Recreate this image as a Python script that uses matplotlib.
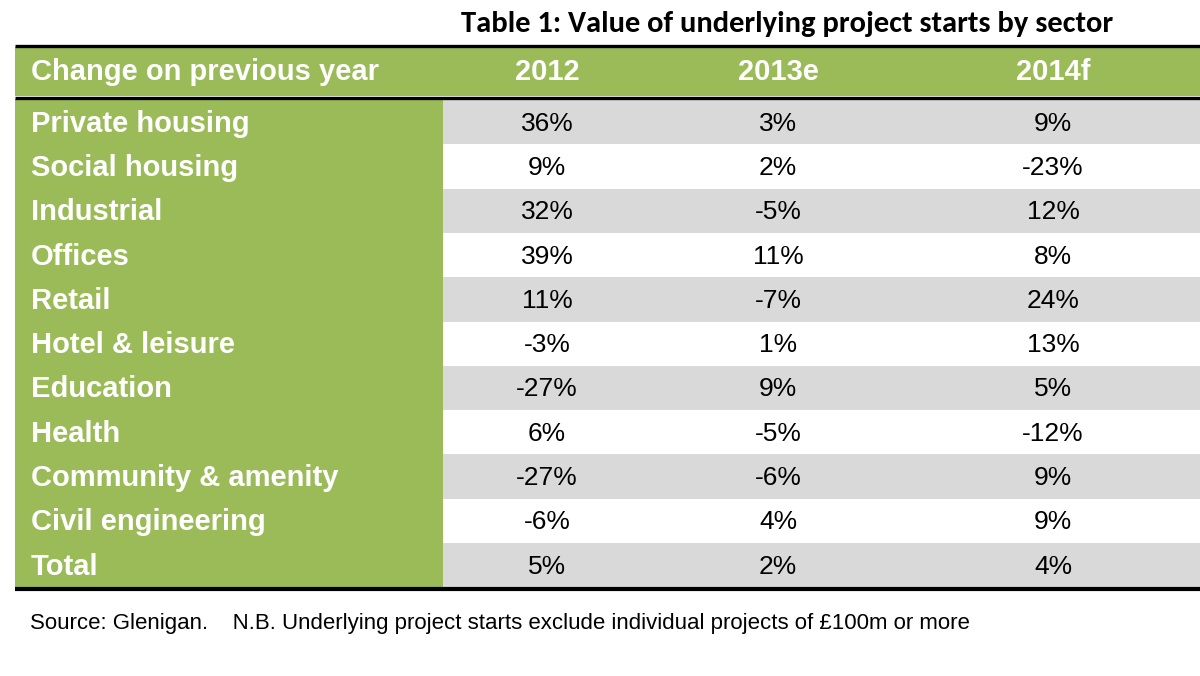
import matplotlib
matplotlib.use("Agg")
import matplotlib.pyplot as plt
from matplotlib.patches import Rectangle
from matplotlib import font_manager

title = "Table 1: Value of underlying project starts by sector"
header_label = "Change on previous year"
years = ["2012", "2013e", "2014f"]
sectors = ["Private housing", "Social housing", "Industrial", "Offices", "Retail",
           "Hotel & leisure", "Education", "Health", "Community & amenity",
           "Civil engineering", "Total"]
v2012 = ["36%", "9%", "32%", "39%", "11%", "-3%", "-27%", "6%", "-27%", "-6%", "5%"]
v2013 = ["3%", "2%", "-5%", "11%", "-7%", "1%", "9%", "-5%", "-6%", "4%", "2%"]
v2014 = ["9%", "-23%", "12%", "8%", "24%", "13%", "5%", "-12%", "9%", "9%", "4%"]
footnote = "Source: Glenigan.    N.B. Underlying project starts exclude individual projects of £100m or more"

GREEN = "#9BBB59"
GREY = "#D9D9D9"

names = {f.name for f in font_manager.fontManager.ttflist}
narrow = "Liberation Sans Narrow" if "Liberation Sans Narrow" in names else "Liberation Sans"
title_font = "Carlito" if "Carlito" in names else "Lato"

fig = plt.figure(figsize=(12, 6.76), dpi=100)
ax = fig.add_axes([0, 0, 1, 1])
ax.set_xlim(0, 1200)
ax.set_ylim(676, 0)
ax.axis("off")

left, right, split = 15, 1200, 443
head_top, head_bot = 47, 96
row_top, row_h = 100, 44.3
col_x = [547, 778, 1053]

# title
ax.text(787, 24, title, ha="center", va="center", fontsize=22, fontweight="bold",
        family=title_font, color="black")

# header
ax.add_patch(Rectangle((left, head_top), right - left, head_bot - head_top, color=GREEN, lw=0))
ax.text(31, 72, header_label, ha="left", va="center", fontsize=21, fontweight="bold",
        family="Liberation Sans", color="white")
for x, y in zip(col_x, years):
    ax.text(x, 72, y, ha="center", va="center", fontsize=21, fontweight="bold",
            family="Liberation Sans", color="white")

n = len(sectors)
bottom = row_top + n * row_h
ax.add_patch(Rectangle((left, row_top - 1), split - left, bottom - row_top + 1, color=GREEN, lw=0))
for i, (s, a, b, c) in enumerate(zip(sectors, v2012, v2013, v2014)):
    y0 = row_top + i * row_h
    if i % 2 == 0:
        ax.add_patch(Rectangle((split, y0), right - split, row_h, color=GREY, lw=0))
    yc = y0 + row_h / 2 + 1.5
    ax.text(31, yc, s, ha="left", va="center", fontsize=21, fontweight="bold",
            family="Liberation Sans", color="white")
    for x, v in zip(col_x, (a, b, c)):
        ax.text(x, yc, v, ha="center", va="center", fontsize=19, family=narrow, color="black")

# black rules
ax.plot([left, right], [45.5, 45.5], color="black", lw=2.4, solid_capstyle="butt")
ax.plot([left, right], [97.5, 97.5], color="black", lw=2.4, solid_capstyle="butt")
ax.plot([left, right], [bottom + 2, bottom + 2], color="black", lw=3, solid_capstyle="butt")

ax.text(30, 624, footnote, ha="left", va="center", fontsize=16, family="Liberation Sans",
        color="black")

fig.savefig("out.png", dpi=100)
